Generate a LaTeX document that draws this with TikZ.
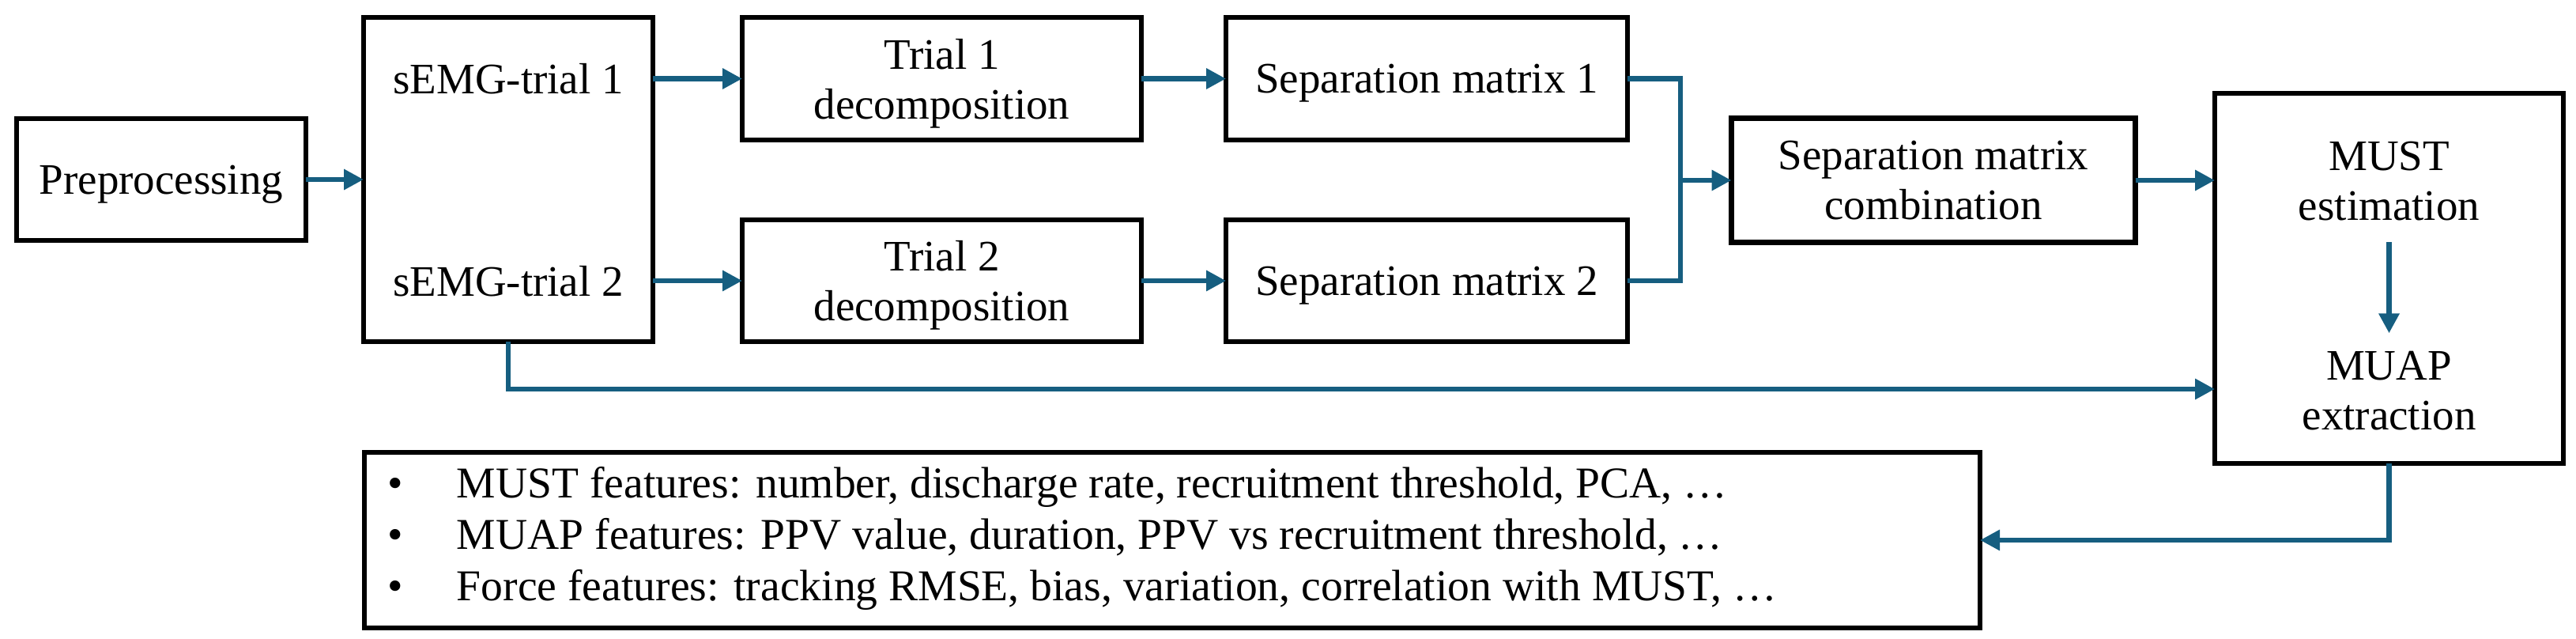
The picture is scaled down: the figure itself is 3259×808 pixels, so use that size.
\documentclass[tikz,border=0pt]{standalone}
\usepackage{fontspec}
\setmainfont{Liberation Serif}
\usetikzlibrary{arrows.meta}
\definecolor{flow}{HTML}{165E80}
\newcommand\twoline[2]{\vbox{\halign{\hfil##\hfil\cr#1\cr#2\cr}}}
\newcommand\bul[1]{\hbox to 992.6pt{\makebox[43.8pt][l]{•}#1\hfil}}
\tikzset{
  txt/.style={font=\fontsize{27.5}{31.5}\selectfont, text depth=0pt},
  box/.style={txt, draw=black, line width=3.3pt, rectangle, inner sep=0pt, outer sep=0pt},
  lbl/.style={txt, inner sep=0pt, outer sep=0pt},
  link/.style={draw=flow, line width=3.4pt},
  arr/.style={link, -{Triangle[length=12.5pt, width=12.5pt]}},
}
\begin{document}
\begin{tikzpicture}[x=0.5pt, y=-0.5pt]
\useasboundingbox[fill=white] (0,0) rectangle (3259,808);

\node[box, minimum width=183pt, minimum height=77pt] (pre) at (204,227) {Preprocessing};
\node[box, minimum width=183pt, minimum height=205pt] (semg) at (643,227) {};
\node[lbl] (semg1) at (643,99.5) {sEMG-trial 1};
\node[lbl] (semg2) at (643,355) {sEMG-trial 2};

\node[box, minimum width=252.5pt, minimum height=77.5pt] (t1) at (1191.5,99.5) {\twoline{Trial 1}{decomposition}};
\node[box, minimum width=252.5pt, minimum height=77pt] (t2) at (1191.5,355) {\twoline{Trial 2}{decomposition}};
\node[box, minimum width=254pt, minimum height=77.5pt] (s1) at (1805,99.5) {Separation matrix 1};
\node[box, minimum width=254pt, minimum height=77pt] (s2) at (1805,355) {Separation matrix 2};

\node[box, minimum width=255.5pt, minimum height=78.5pt] (comb) at (2446,228) {\twoline{Separation matrix}{combination}};

\node[box, minimum width=220.5pt, minimum height=234pt] (mubox) at (3022.5,352) {};
\node[lbl] (must) at (3022.5,228.5) {\twoline{MUST}{estimation}};
\node[lbl] (muap) at (3022.5,494) {\twoline{MUAP}{extraction}};

\node[box, minimum width=1022pt, minimum height=111pt, text depth=8.2pt,
      font=\fontsize{27.8}{32.5}\selectfont] (feat) at (1483,683)
  {\vbox{\bul{MUST features: number, discharge rate, recruitment threshold, PCA, …}
         \bul{MUAP features: PPV value, duration, PPV vs recruitment threshold, …}
         \bul{Force features: tracking RMSE, bias, variation, correlation with MUST, …}}};

\coordinate (bx) at (2126,228);
\coordinate (low) at (643,492);
\coordinate (ret) at (3022.5,683);

\draw[arr] (pre.east) -- (pre.east -| semg.west);
\draw[arr] (semg1 -| semg.east) -- (semg1 -| t1.west);
\draw[arr] (semg2 -| semg.east) -- (semg2 -| t2.west);
\draw[arr] (t1.east) -- (s1.west);
\draw[arr] (t2.east) -- (s2.west);
\draw[link] (s1.east) -| (bx) |- (s2.east);
\draw[arr] (bx) -- (comb.west);
\draw[arr] (comb.east) -- (comb.east -| mubox.west);
\draw[arr] ([yshift=-14pt]must.south) -- ([yshift=11.5pt]muap.north);
\draw[arr] (semg.south) -- (low) -- (low -| mubox.west);
\draw[arr] (mubox.south) -- (ret) -- (ret -| feat.east);
\end{tikzpicture}
\end{document}
